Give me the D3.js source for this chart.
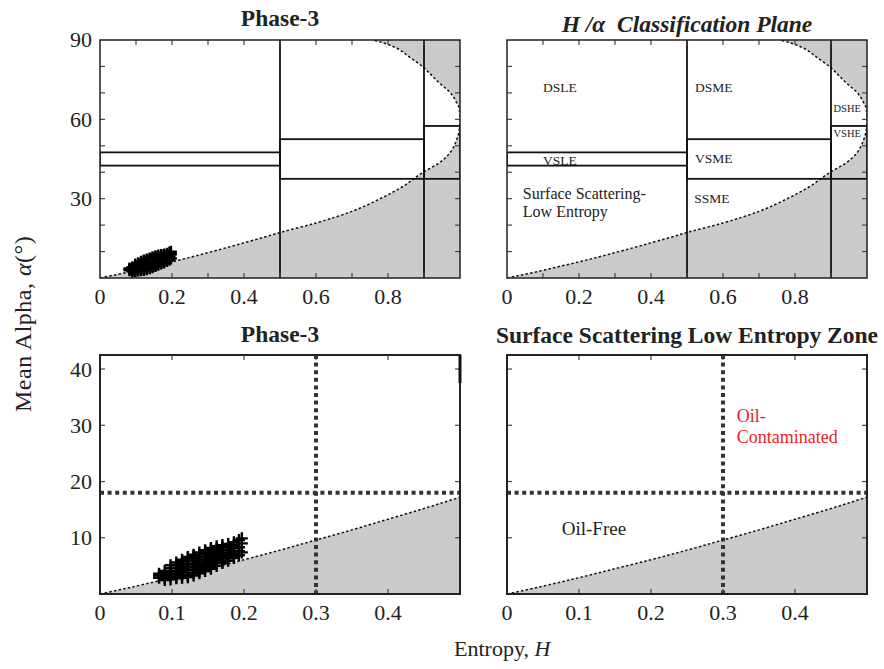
<!DOCTYPE html>
<html>
<head>
<meta charset="utf-8">
<script src="https://cdn.jsdelivr.net/npm/d3@7"></script>
<style>
body { margin: 0; background: #fff; }
svg text { font-family: "Liberation Serif", "Times New Roman", serif; fill: #222; }
</style>
</head>
<body>
<div id="chart"></div>
<script>
/*global d3*/

// feasible H/alpha boundary (lower branch, then upper branch)
var lowerH = [0, 0.05, 0.1, 0.15, 0.2, 0.25, 0.3, 0.35, 0.4, 0.45, 0.5, 0.6, 0.7, 0.78, 0.84, 0.9, 0.94, 0.97, 0.99, 0.998, 1.0];
var lowerAlpha = [0, 1.4, 2.9, 4.5, 6.1, 7.8, 9.6, 11.4, 13.3, 15.2, 17.2, 20.8, 25.2, 30.1, 34.5, 40.2, 43.3, 47, 52, 56, 60];
var upperH = [0.998, 0.99, 0.97, 0.944, 0.92, 0.898, 0.86, 0.824, 0.79, 0.758];
var upperAlpha = [64, 66.5, 70.5, 73.6, 76.8, 79.7, 83.5, 86.9, 88.8, 90];

// zone split lines and the "vegetation" bands of the classification plane
var entropySplits = [0.5, 0.9];
var bandH0 = [0, 0.5, 0.9];
var bandH1 = [0.5, 0.9, 1.0];
var bandLow = [42.5, 37.5, 37.5];
var bandHigh = [47.5, 52.5, 57.5];

// oil detection thresholds (bottom panels)
var alphaThreshold = 18;
var entropyThreshold = 0.3;

// tick labels
var topXLabels = [0, 0.2, 0.4, 0.6, 0.8];
var topYLabels = [30, 60, 90];
var bottomXLabels = [0, 0.1, 0.2, 0.3, 0.4];
var bottomYLabels = [10, 20, 30, 40];

// phase-3 pixels: entropy columns and the alpha values found in each
var cloudH = [0.082, 0.090, 0.098, 0.106, 0.114, 0.122, 0.130, 0.138, 0.146, 0.154, 0.162, 0.170, 0.178, 0.186, 0.193, 0.197];
var cloudAlpha = [
	[2.9, 3.3, 3.6],
	[2.5, 2.8, 3.3, 3.8, 4.1],
	[2.6, 3.1, 3.6, 4.1, 4.6, 5.1],
	[2.8, 3.1, 3.6, 4.1, 4.6, 5.1, 5.6],
	[2.9, 3.4, 3.9, 4.4, 4.9, 5.4, 5.8, 6.1],
	[3.0, 3.3, 3.8, 4.3, 4.8, 5.3, 5.8, 6.3, 6.6],
	[3.3, 3.8, 4.3, 4.8, 5.3, 5.8, 6.3, 6.7, 7.0],
	[3.7, 4.0, 4.5, 5.0, 5.5, 6.0, 6.5, 7.0, 7.4],
	[4.1, 4.6, 5.1, 5.6, 6.1, 6.6, 7.1, 7.5, 7.8],
	[4.5, 4.8, 5.3, 5.8, 6.3, 6.8, 7.3, 7.8, 8.2],
	[5.0, 5.5, 6.0, 6.5, 7.0, 7.5, 8.0, 8.5],
	[5.5, 5.8, 6.3, 6.8, 7.3, 7.8, 8.3, 8.7],
	[5.9, 6.4, 6.9, 7.4, 7.9, 8.4, 8.9],
	[6.4, 6.7, 7.2, 7.7, 8.2, 8.7, 9.2],
	[6.9, 7.6, 8.3, 9.6],
	[7.4, 9.0, 9.9]
];

var GRAY = '#cbcbcb';

var svg = d3.select('#chart').append('svg')
	.attr('width', 884).attr('height', 669);

var boundary = lowerH.map(function (h, i) { return [h, lowerAlpha[i]]; })
	.concat(upperH.map(function (h, i) { return [h, upperAlpha[i]]; }));

var cloud = [];
cloudH.forEach(function (h, i) {
	cloudAlpha[i].forEach(function (a) { cloud.push([h, a]); });
});

var panels = [
	{ left: 100, top: 40, w: 360, h: 238, hMax: 1, aMax: 90, zones: true, cloud: true,
		xLabels: topXLabels, yLabels: topYLabels, title: 'Phase-3', titleY: 26, frame: 1.5 },
	{ left: 507, top: 40, w: 360, h: 238, hMax: 1, aMax: 90, zones: true, zoneText: true,
		xLabels: topXLabels, yLabels: [], title: 'plane', titleY: 32, frame: 1.5 },
	{ left: 100, top: 355, w: 360, h: 239, hMax: 0.5, aMax: 42.5, oil: true, cloud: true, edgeMark: true,
		xLabels: bottomXLabels, yLabels: bottomYLabels, title: 'Phase-3', titleY: 342, frame: 2 },
	{ left: 507, top: 355, w: 360, h: 239, hMax: 0.5, aMax: 42.5, oil: true, oilText: true,
		xLabels: bottomXLabels, yLabels: [], title: 'Surface Scattering Low Entropy Zone', titleY: 343, frame: 2 }
];

function drawPanel(p, idx) {
	var x = d3.scaleLinear().domain([0, p.hMax]).range([0, p.w]);
	var y = d3.scaleLinear().domain([0, p.aMax]).range([p.h, 0]);
	var g = svg.append('g').attr('transform', 'translate(' + p.left + ',' + p.top + ')');

	svg.append('clipPath').attr('id', 'clip' + idx)
		.append('rect').attr('width', p.w).attr('height', p.h);

	var body = g.append('g').attr('clip-path', 'url(#clip' + idx + ')');
	// alpha rises all along the boundary, so interpolate monotone in y
	var line = d3.line()
		.x(function (d) { return x(d[0]); })
		.y(function (d) { return y(d[1]); })
		.curve(d3.curveMonotoneY);

	body.append('rect').attr('width', p.w).attr('height', p.h).attr('fill', GRAY);
	body.append('path')
		.attr('d', line(boundary) + 'L' + x(0) + ',' + y(90) + 'Z')
		.attr('fill', '#fff');
	body.append('path')
		.attr('d', line(boundary))
		.attr('fill', 'none').attr('stroke', '#111')
		.attr('stroke-width', 1.5).attr('stroke-dasharray', '2.5,2.2');

	if (p.zones) {
		body.selectAll('.split').data(entropySplits).enter().append('line')
			.attr('x1', x).attr('x2', x)
			.attr('y1', 0).attr('y2', p.h)
			.attr('stroke', '#111').attr('stroke-width', 1.8);
		body.selectAll('.band').data(bandH0).enter().append('rect')
			.attr('x', function (d) { return x(d); })
			.attr('width', function (d, i) { return x(bandH1[i]) - x(d); })
			.attr('y', function (d, i) { return y(bandHigh[i]); })
			.attr('height', function (d, i) { return y(bandLow[i]) - y(bandHigh[i]); })
			.attr('fill', 'none').attr('stroke', '#111').attr('stroke-width', 1.8);
	}

	if (p.oil) {
		body.append('line')
			.attr('x1', 0).attr('x2', p.w)
			.attr('y1', y(alphaThreshold)).attr('y2', y(alphaThreshold))
			.attr('stroke', '#333').attr('stroke-width', 4).attr('stroke-dasharray', '4,3.6');
		body.append('line')
			.attr('x1', x(entropyThreshold)).attr('x2', x(entropyThreshold))
			.attr('y1', 0).attr('y2', p.h)
			.attr('stroke', '#333').attr('stroke-width', 4).attr('stroke-dasharray', '4,3.6');
	}

	// inward minor ticks on all four sides
	var xt = x.ticks(p.hMax === 1 ? 10 : 5).filter(function (d) { return d > 0 && d < p.hMax; });
	var yt = y.ticks(p.aMax === 90 ? 9 : 4).filter(function (d) { return d > 0 && d < p.aMax; });
	var ticks = g.append('g').attr('stroke', '#444').attr('stroke-width', 1.2);
	xt.forEach(function (d) {
		ticks.append('line').attr('x1', x(d)).attr('x2', x(d)).attr('y1', p.h).attr('y2', p.h - 5);
		ticks.append('line').attr('x1', x(d)).attr('x2', x(d)).attr('y1', 0).attr('y2', 5);
	});
	yt.forEach(function (d) {
		ticks.append('line').attr('x1', 0).attr('x2', 5).attr('y1', y(d)).attr('y2', y(d));
		ticks.append('line').attr('x1', p.w).attr('x2', p.w - 5).attr('y1', y(d)).attr('y2', y(d));
	});

	g.append('rect').attr('width', p.w).attr('height', p.h)
		.attr('fill', 'none').attr('stroke', '#222').attr('stroke-width', p.frame);

	if (p.edgeMark) {
		g.append('line').attr('x1', p.w).attr('x2', p.w)
			.attr('y1', 0).attr('y2', y(37.5))
			.attr('stroke', '#111').attr('stroke-width', 3);
	}

	g.selectAll('.xl').data(p.xLabels).enter().append('text')
		.attr('x', x).attr('y', p.h + 26)
		.attr('text-anchor', 'middle').style('font-size', '22px')
		.text(function (d) { return d; });
	g.selectAll('.yl').data(p.yLabels).enter().append('text')
		.attr('x', -8).attr('y', y).attr('dy', '0.34em')
		.attr('text-anchor', 'end').style('font-size', '22px')
		.text(function (d) { return d; });

	if (p.zoneText) {
		var zoneText = [
			{ t: 'DSLE', h: 0.1, a: 70.3, s: 13.5 },
			{ t: 'DSME', h: 0.522, a: 70.3, s: 13.5 },
			{ t: 'DSHE', h: 0.907, a: 62.8, s: 10.5 },
			{ t: 'VSHE', h: 0.907, a: 53.3, s: 10.5 },
			{ t: 'VSLE', h: 0.1, a: 42.8, s: 13.5 },
			{ t: 'VSME', h: 0.522, a: 43.5, s: 13.5 },
			{ t: 'SSME', h: 0.52, a: 28.5, s: 13.5 },
			{ t: 'Surface Scattering-', h: 0.044, a: 29.9, s: 16 },
			{ t: 'Low Entropy', h: 0.044, a: 23.2, s: 16 }
		];
		g.selectAll('.zt').data(zoneText).enter().append('text')
			.attr('x', function (d) { return x(d.h); })
			.attr('y', function (d) { return y(d.a); })
			.style('font-size', function (d) { return d.s + 'px'; })
			.text(function (d) { return d.t; });
	}

	if (p.oilText) {
		g.append('text').attr('x', x(0.319)).attr('y', y(30.5))
			.style('font-size', '18px').style('fill', '#ee1c1c').text('Oil-');
		g.append('text').attr('x', x(0.319)).attr('y', y(26.9))
			.style('font-size', '18px').style('fill', '#ee1c1c').text('Contaminated');
		g.append('text').attr('x', x(0.076)).attr('y', y(10.5))
			.style('font-size', '19px').text('Oil-Free');
	}

	if (p.cloud) {
		g.append('g').selectAll('path').data(cloud).enter().append('path')
			.attr('transform', function (d) { return 'translate(' + x(d[0]) + ',' + y(d[1]) + ')'; })
			.attr('d', 'M-6,0H6M0,-6V6')
			.attr('stroke', '#000').attr('stroke-width', 2.4).attr('fill', 'none');
	}

	var title = svg.append('text')
		.attr('x', p.left + p.w / 2).attr('y', p.titleY)
		.attr('text-anchor', 'middle')
		.style('font-size', '23.5px').style('font-weight', 'bold');
	if (p.title === 'plane') {
		title.style('font-style', 'italic').style('white-space', 'pre')
			.text('H /\u03b1  Classification Plane');
	} else {
		title.text(p.title);
	}
}

panels.forEach(drawPanel);

// shared axis titles
var yTitle = svg.append('text')
	.attr('transform', 'translate(31,412) rotate(-90)')
	.style('font-size', '24px').style('letter-spacing', '0.5px');
yTitle.append('tspan').text('Mean Alpha, ');
yTitle.append('tspan').style('font-style', 'italic').text('\u03b1');
yTitle.append('tspan').text('(\u00b0)');

var xTitle = svg.append('text')
	.attr('x', 454).attr('y', 656)
	.style('font-size', '22px');
xTitle.append('tspan').text('Entropy, ');
xTitle.append('tspan').style('font-style', 'italic').text('H');
</script>
</body>
</html>
